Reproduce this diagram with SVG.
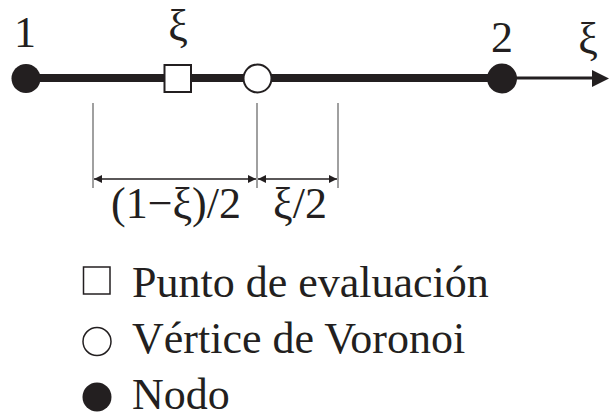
<svg xmlns="http://www.w3.org/2000/svg" width="609" height="420" viewBox="0 0 609 420">
<style>
text{font-family:"Liberation Serif","Times New Roman",serif;font-size:44px;fill:#231f20}
.node{fill:#231f20}
.open{fill:#fff;stroke:#231f20;stroke-width:2}
.ext{stroke:#6d6d6d;stroke-width:1.3;fill:none}
.dim{stroke:#231f20;stroke-width:1.5;fill:none}
</style>
<defs>
<marker id="ah" viewBox="0 0 10 10" refX="10" refY="5" markerWidth="8" markerHeight="10" markerUnits="userSpaceOnUse" orient="auto-start-reverse">
<path d="M0,0 L10,5 L0,10 Z" fill="#231f20"/>
</marker>
</defs>
<g id="connectors">
<line x1="26" y1="78" x2="502" y2="78" stroke="#231f20" stroke-width="8"/>
<line x1="502" y1="78" x2="596" y2="78" stroke="#231f20" stroke-width="3"/>
<polygon points="592,70 609,78.5 592,87" fill="#231f20"/>
<line class="ext" x1="93" y1="103" x2="93" y2="188"/>
<line class="ext" x1="257" y1="103" x2="257" y2="188"/>
<line class="ext" x1="338" y1="103" x2="338" y2="188"/>
<line class="dim" x1="94" y1="179" x2="256" y2="179" marker-start="url(#ah)" marker-end="url(#ah)"/>
<line class="dim" x1="258" y1="179" x2="337" y2="179" marker-start="url(#ah)" marker-end="url(#ah)"/>
</g>
<g id="node1">
<circle class="node" cx="26" cy="78.5" r="14.5"/>
<text x="25" y="47" text-anchor="middle">1</text>
</g>
<g id="evalpoint">
<rect class="open" x="164.5" y="65" width="26.5" height="27"/>
<text x="178" y="40" text-anchor="middle">ξ</text>
</g>
<g id="voronoi">
<circle class="open" cx="257.5" cy="78.5" r="14"/>
</g>
<g id="node2">
<circle class="node" cx="502" cy="78.5" r="15"/>
<text x="502" y="52" text-anchor="middle">2</text>
</g>
<g id="axislabel">
<text x="588" y="53" text-anchor="middle">ξ</text>
</g>
<g id="dimlabels">
<text x="176" y="218" text-anchor="middle">(1−ξ)/2</text>
<text x="300" y="218" text-anchor="middle">ξ/2</text>
</g>
<g id="legend">
<rect x="83.5" y="267" width="26.5" height="27" fill="none" stroke="#231f20" stroke-width="1.5"/>
<text x="132" y="297">Punto de evaluación</text>
<circle cx="97" cy="341.5" r="14" fill="none" stroke="#231f20" stroke-width="1.5"/>
<text x="132" y="353">Vértice de Voronoi</text>
<circle cx="97" cy="397" r="14.5" fill="#231f20"/>
<text x="132" y="409">Nodo</text>
</g>
</svg>
